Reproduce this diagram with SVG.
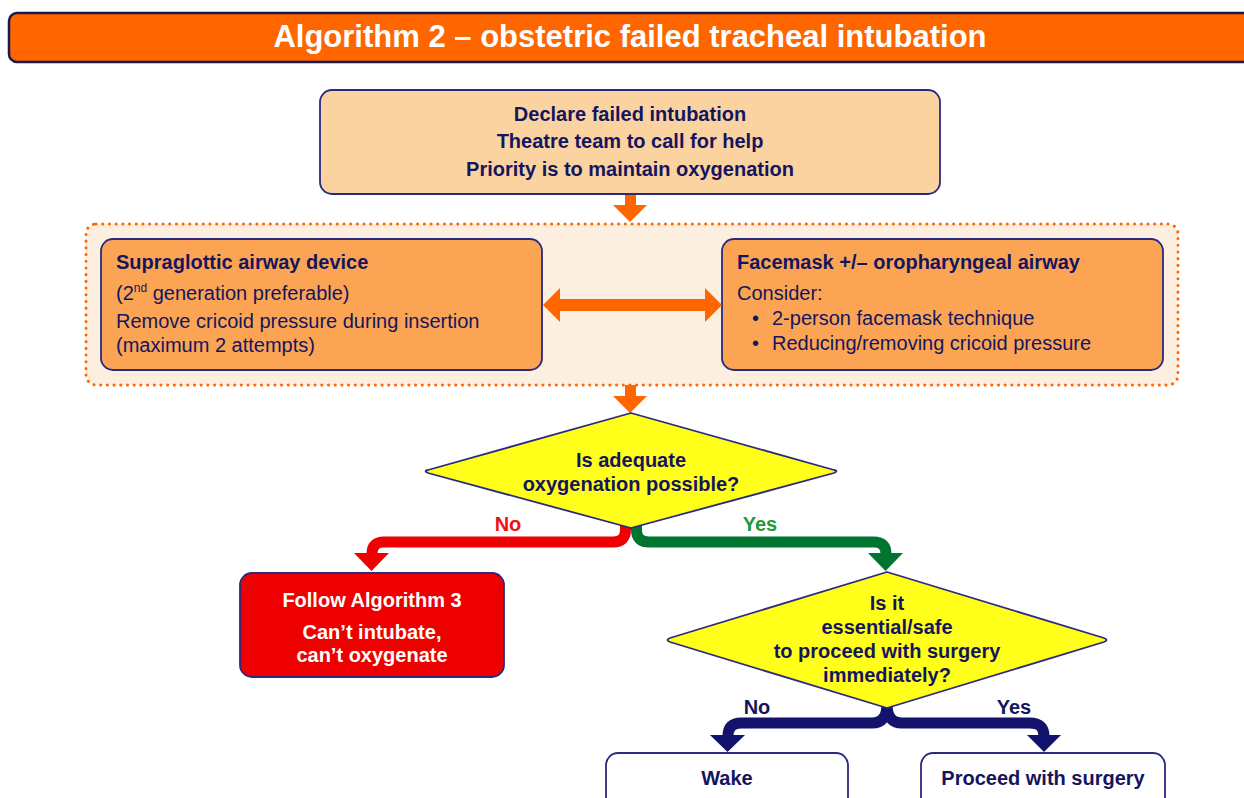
<svg xmlns="http://www.w3.org/2000/svg" width="1244" height="798" viewBox="0 0 1244 798">
<style>
text{font-family:"Liberation Sans",Arial,sans-serif;font-size:20px;fill:#15155e}
.b{font-weight:bold}
.c{text-anchor:middle}
.w{fill:#ffffff}
.box{stroke:#2a2a80;stroke-width:1.8}
.or{fill:#ff6600}
</style>
<rect width="1244" height="798" fill="#ffffff"/>
<g id="title">
<rect x="9" y="13" width="1252" height="49" rx="8" fill="#ff6600" stroke="#1a1a4a" stroke-width="2.5"/>
<text x="630" y="47" class="b c w" style="font-size:31px">Algorithm 2 – obstetric failed tracheal intubation</text>
</g>
<g id="connectors">
<rect x="625" y="194" width="11" height="12" class="or"/>
<polygon points="613,205 647,205 630,222" class="or"/>
<rect x="625" y="385" width="11" height="12" class="or"/>
<polygon points="613,396 647,396 630,413" class="or"/>
<path d="M625.5 522 L625.5 530 Q625.5 542 613 542 L384 542 Q372 542 372 554" fill="none" stroke="#ee0000" stroke-width="11"/>
<polygon points="354,553 389,553 371.5,571" fill="#ee0000"/>
<path d="M636.5 522 L636.5 530 Q636.5 542 649 542 L874 542 Q886 542 886 554" fill="none" stroke="#007530" stroke-width="11"/>
<polygon points="868,553 903,553 885.5,571" fill="#007530"/>
<path d="M887 704 Q887 723 872 723 L741 723 Q728 723 728 736" fill="none" stroke="#13136e" stroke-width="11"/>
<polygon points="710,735 745,735 727.5,752" fill="#13136e"/>
<path d="M887 704 Q887 723 902 723 L1030 723 Q1044 723 1044 736" fill="none" stroke="#13136e" stroke-width="11"/>
<polygon points="1027,735 1061,735 1044,752" fill="#13136e"/>
<text x="508" y="531" class="b c" style="fill:#ee1111">No</text>
<text x="760" y="531" class="b c" style="fill:#1e9a3c">Yes</text>
<text x="757" y="714" class="b c">No</text>
<text x="1014" y="714" class="b c">Yes</text>
</g>
<g id="declare">
<rect x="320" y="90" width="620" height="104" rx="12" fill="#fbd3a0" class="box"/>
<text x="630" y="121" class="b c">Declare failed intubation</text>
<text x="630" y="148" class="b c">Theatre team to call for help</text>
<text x="630" y="176" class="b c">Priority is to maintain oxygenation</text>
</g>
<g id="options">
<rect x="86" y="224" width="1092" height="161" rx="10" fill="#fdefdf" stroke="#ff6600" stroke-width="3" stroke-dasharray="0.1 6.6" stroke-linecap="round"/>
</g>
<g id="sad">
<rect x="101" y="239" width="441" height="131" rx="12" fill="#fba554" class="box"/>
<text x="116" y="269" class="b">Supraglottic airway device</text>
<text x="116" y="300">(2<tspan style="font-size:12px" dy="-8">nd</tspan><tspan dy="8"> generation preferable)</tspan></text>
<text x="116" y="328">Remove cricoid pressure during insertion</text>
<text x="116" y="352">(maximum 2 attempts)</text>
</g>
<g id="facemask">
<rect x="722" y="239" width="441" height="131" rx="12" fill="#fba554" class="box"/>
<text x="737" y="269" class="b">Facemask +/– oropharyngeal airway</text>
<text x="737" y="300">Consider:</text>
<text x="752" y="325">•</text>
<text x="772" y="325">2-person facemask technique</text>
<text x="752" y="350">•</text>
<text x="772" y="350">Reducing/removing cricoid pressure</text>
</g>
<g id="both">
<polygon points="543,305 560,288 560,299 705,299 705,288 722,305 705,322 705,311 560,311 560,322" class="or"/>
</g>
<g id="decision1">
<path d="M631 413 L834 470 Q839 471 834 473 L631 528 L428 473 Q423 471 428 470 Z" fill="#ffff1a" stroke="#2a2a80" stroke-width="1.8" stroke-linejoin="round"/>
<text x="631" y="467" class="b c">Is adequate</text>
<text x="631" y="491" class="b c">oxygenation possible?</text>
</g>
<g id="alg3">
<rect x="240" y="573" width="264" height="104" rx="12" fill="#ee0000" class="box"/>
<text x="372" y="607" class="b c w">Follow Algorithm 3</text>
<text x="372" y="639" class="b c w">Can’t intubate,</text>
<text x="372" y="662" class="b c w">can’t oxygenate</text>
</g>
<g id="decision2">
<path d="M887 572 L1104 638 Q1109 640 1104 642 L887 708 L670 642 Q665 640 670 638 Z" fill="#ffff1a" stroke="#2a2a80" stroke-width="1.8" stroke-linejoin="round"/>
<text x="887" y="610" class="b c">Is it</text>
<text x="887" y="634" class="b c">essential/safe</text>
<text x="887" y="658" class="b c">to proceed with surgery</text>
<text x="887" y="682" class="b c">immediately?</text>
</g>
<g id="wake">
<rect x="606" y="753" width="242" height="60" rx="12" fill="#ffffff" class="box"/>
<text x="727" y="785" class="b c">Wake</text>
</g>
<g id="proceed">
<rect x="921" y="753" width="244" height="60" rx="12" fill="#ffffff" class="box"/>
<text x="1043" y="785" class="b c">Proceed with surgery</text>
</g>
</svg>
